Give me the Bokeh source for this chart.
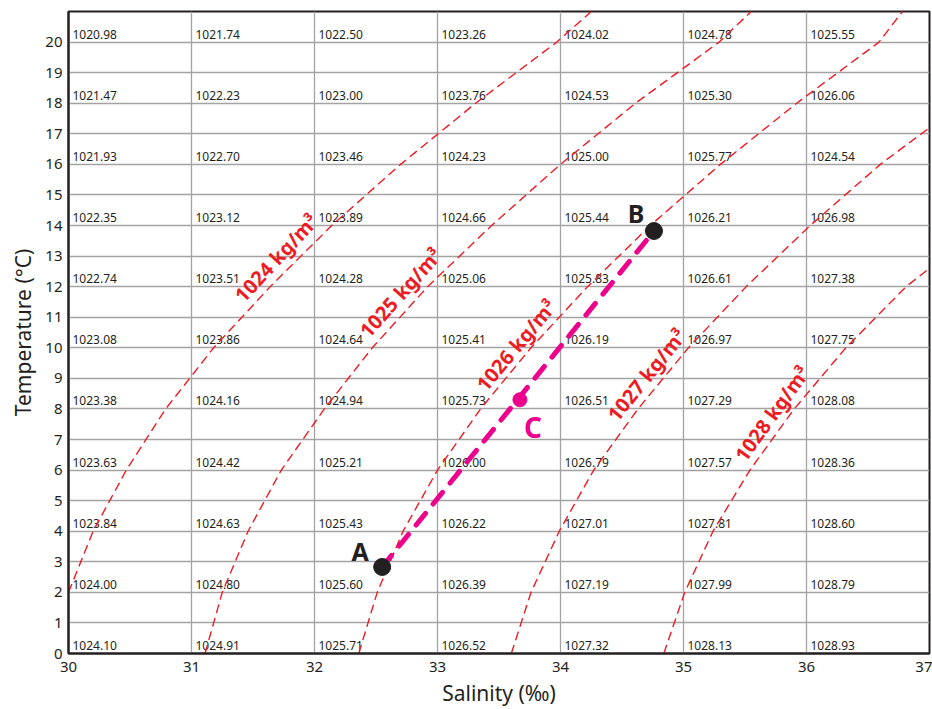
from bokeh.plotting import figure
from bokeh.models import ColumnDataSource, FixedTicker, Range1d
from bokeh.core.properties import value
from bokeh.embed import file_html
from bokeh.resources import INLINE

# ---------------- data ----------------
salinity = [30, 31, 32, 33, 34, 35, 36]
temperature_rows = [20, 18, 16, 14, 12, 10, 8, 6, 4, 2, 0]

rho_t20 = [1020.98, 1021.74, 1022.50, 1023.26, 1024.02, 1024.78, 1025.55]
rho_t18 = [1021.47, 1022.23, 1023.00, 1023.76, 1024.53, 1025.30, 1026.06]
rho_t16 = [1021.93, 1022.70, 1023.46, 1024.23, 1025.00, 1025.77, 1024.54]
rho_t14 = [1022.35, 1023.12, 1023.89, 1024.66, 1025.44, 1026.21, 1026.98]
rho_t12 = [1022.74, 1023.51, 1024.28, 1025.06, 1025.83, 1026.61, 1027.38]
rho_t10 = [1023.08, 1023.86, 1024.64, 1025.41, 1026.19, 1026.97, 1027.75]
rho_t8 = [1023.38, 1024.16, 1024.94, 1025.73, 1026.51, 1027.29, 1028.08]
rho_t6 = [1023.63, 1024.42, 1025.21, 1026.00, 1026.79, 1027.57, 1028.36]
rho_t4 = [1023.84, 1024.63, 1025.43, 1026.22, 1027.01, 1027.81, 1028.60]
rho_t2 = [1024.00, 1024.80, 1025.60, 1026.39, 1027.19, 1027.99, 1028.79]
rho_t0 = [1024.10, 1024.91, 1025.71, 1026.52, 1027.32, 1028.13, 1028.93]

# isopycnals (salinity read at each temperature)
iso1024_t = [2, 4, 6, 8, 10, 12, 14, 16, 18, 20, 21]
iso1024_s = [30.00, 30.20, 30.47, 30.79, 31.18, 31.64, 32.14, 32.70, 33.31, 33.97, 34.25]
iso1025_t = [0, 2, 4, 6, 8, 10, 12, 14, 16, 18, 20, 21]
iso1025_s = [31.11, 31.25, 31.46, 31.73, 32.08, 32.47, 32.92, 33.44, 34.00, 34.61, 35.29, 35.55]
iso1026_t = [0, 2, 4, 6, 8, 10, 12, 14, 16, 18, 20, 21]
iso1026_s = [32.36, 32.51, 32.72, 33.00, 33.35, 33.76, 34.22, 34.73, 35.30, 35.92, 36.59, 36.78]
iso1027_t = [0, 2, 4, 6, 8, 10, 12, 14, 16, 17.2]
iso1027_s = [33.60, 33.76, 33.99, 34.27, 34.63, 35.04, 35.51, 36.03, 36.60, 37.00]
iso1028_t = [0, 2, 4, 6, 8, 10, 12, 12.6]
iso1028_s = [34.84, 35.01, 35.24, 35.54, 35.90, 36.32, 36.81, 37.00]

iso_names = ["1024 kg/m³", "1025 kg/m³", "1026 kg/m³", "1027 kg/m³", "1028 kg/m³"]

# water samples A, B and mixture C
point_names = ["A", "B"]
point_s = [32.55, 34.76]
point_t = [2.83, 13.82]
mix_s = [33.67]
mix_t = [8.30]

# ---------------- layout / style ----------------
RED = "#ED1C24"
MAGENTA = "#EC008C"
DARK = "#231F20"
FONT = "Noto Sans"

# label placement along curves
iso_label_s = [31.69, 32.70, 33.64, 34.70, 35.72]
iso_label_t = [12.94, 11.80, 10.08, 9.11, 7.84]
iso_label_angle = [47, 48, 50, 51, 54]

p = figure(width=932, height=709, output_backend="svg", toolbar_location=None,
           x_range=Range1d(30, 37), y_range=Range1d(0, 21),
           min_border_left=68, min_border_right=3, min_border_top=11, min_border_bottom=53)
p.background_fill_color = "white"
p.border_fill_color = "white"
p.outline_line_color = DARK
p.outline_line_width = 2

# axes
p.xaxis.ticker = FixedTicker(ticks=list(range(30, 38)))
p.yaxis.ticker = FixedTicker(ticks=list(range(0, 21)))
for ax in (p.xaxis[0], p.yaxis[0]):
    ax.axis_line_color = DARK
    ax.axis_line_width = 2
    ax.major_tick_line_color = None
    ax.minor_tick_line_color = None
    ax.major_tick_out = 0
    ax.major_tick_in = 0
    ax.minor_tick_out = 0
    ax.minor_tick_in = 0
    ax.major_label_text_font = FONT
    ax.major_label_text_font_size = "15px"
    ax.major_label_text_color = DARK
    ax.axis_label_text_font = FONT
    ax.axis_label_text_font_size = "21px"
    ax.axis_label_text_font_style = "normal"
    ax.axis_label_text_color = DARK
p.xaxis.axis_label = "Salinity (‰)"
p.yaxis.axis_label = "Temperature (°C)"
p.xaxis.major_label_standoff = 8
p.xaxis.axis_label_standoff = 4
p.yaxis.major_label_standoff = 6
p.yaxis.axis_label_standoff = 5

# grid
p.xgrid.ticker = FixedTicker(ticks=list(range(30, 38)))
p.ygrid.ticker = FixedTicker(ticks=list(range(0, 22)))
p.xgrid.grid_line_color = "#A3A3A3"
p.ygrid.grid_line_color = "#A3A3A3"
p.xgrid.grid_line_width = 1.3
p.ygrid.grid_line_width = 1.3

# density cell labels
rows = [rho_t20, rho_t18, rho_t16, rho_t14, rho_t12, rho_t10, rho_t8, rho_t6, rho_t4, rho_t2, rho_t0]
cx, cy, ctext = [], [], []
for t, row in zip(temperature_rows, rows):
    for s, r in zip(salinity, row):
        cx.append(s)
        cy.append(t)
        ctext.append(f"{r:.2f}")
cells = ColumnDataSource(dict(x=cx, y=cy, text=ctext))
p.text(x="x", y="y", text="text", source=cells, x_offset=4, y_offset=-3.5,
       text_font=value(FONT), text_font_size=value("12px"), text_color=DARK,
       text_baseline="bottom", text_align="left")

# isopycnals
for ss, tt in [(iso1024_s, iso1024_t), (iso1025_s, iso1025_t), (iso1026_s, iso1026_t),
               (iso1027_s, iso1027_t), (iso1028_s, iso1028_t)]:
    p.line(ss, tt, line_color=RED, line_width=1.4, line_dash="9 5")

iso_src = ColumnDataSource(dict(x=iso_label_s, y=iso_label_t, text=iso_names,
                                angle=iso_label_angle))
p.text(x="x", y="y", text="text", angle="angle", angle_units="deg", source=iso_src,
       text_font=value(FONT), text_font_size=value("20px"), text_font_style="bold",
       text_color=RED, text_align="center", text_baseline="middle")

# mixing line A-B
p.line(point_s, point_t, line_color=MAGENTA, line_width=5, line_dash="15 12",
       line_cap="round")
p.scatter(point_s, point_t, size=17, fill_color=DARK, line_color=DARK)
p.scatter(mix_s, mix_t, size=14, fill_color=MAGENTA, line_color=MAGENTA)

pt_src = ColumnDataSource(dict(x=point_s, y=point_t, text=point_names,
                               xo=[-22, -18], yo=[-16, -18]))
p.text(x="x", y="y", text="text", source=pt_src, x_offset="xo", y_offset="yo",
       text_font=value(FONT), text_font_size=value("25px"), text_font_style="bold",
       text_color=DARK, text_align="center", text_baseline="middle")
p.text(x=mix_s, y=mix_t, text=["C"], x_offset=13, y_offset=27,
       text_font=value(FONT), text_font_size=value("28px"), text_font_style="bold",
       text_color=MAGENTA, text_align="center", text_baseline="middle")

open("out.html", "w").write(file_html(p, INLINE))
